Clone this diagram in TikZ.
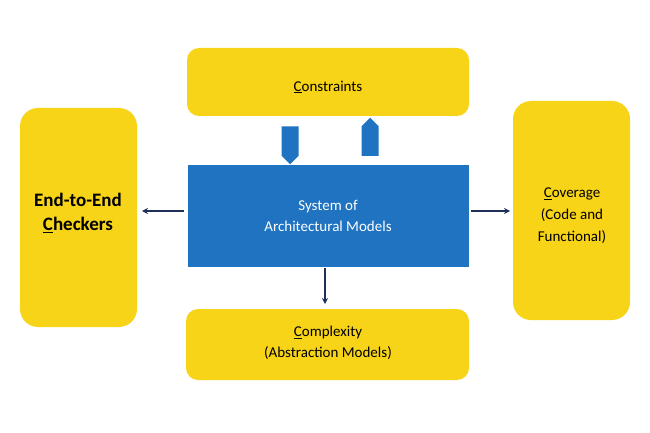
\documentclass[tikz,border=0pt]{standalone}
\usepackage{fontspec}
\setmainfont{Carlito}
\usetikzlibrary{shapes.arrows,arrows.meta}
\definecolor{yel}{HTML}{F7D417}
\definecolor{blu}{HTML}{1F73C1}
\definecolor{nav}{HTML}{1F2F5A}
\begin{document}
\begin{tikzpicture}[x=1pt,y=-1pt,
 ybox/.style={fill=yel,draw=none,rounded corners=#1},
 lab/.style={font=\fontsize{15}{18}\selectfont,align=center},
 thin/.style={draw=nav,line width=1.2pt,-{Stealth[length=6pt,width=6pt]}},
 fat/.style={single arrow,fill=blu,draw=none,minimum width=17pt,single arrow head extend=0pt,minimum height=38pt,inner sep=2.5pt}]
\useasboundingbox (0,0) rectangle (650,433);
\fill[ybox=12] (187,48) rectangle (469,116);
\node[lab] (cons) at (328,87) {\underline{C}onstraints};
\fill[ybox=18] (20,108) rectangle (137,327);
\node[lab,font=\bfseries\fontsize{19}{24}\selectfont] (ee) at (78,213) {End-to-End\\\underline{C}heckers};
\fill[ybox=18] (513,101) rectangle (630,320);
\node[lab,font=\fontsize{15}{22}\selectfont] (cov) at (572,216) {\underline{C}overage\\(Code and\\Functional)};
\fill[ybox=12] (186,309) rectangle (469,380);
\node[lab,font=\fontsize{15}{21}\selectfont] (cmp) at (328,343) {\underline{C}omplexity\\(Abstraction Models)};
\fill[blu] (188,165) rectangle (469,267);
\node[lab,text=white,font=\fontsize{15}{21}\selectfont] (sys) at (328,216) {System of\\Architectural Models};
\coordinate (sl) at (184,211); \coordinate (el) at (142,211);
\coordinate (sr) at (471,211); \coordinate (er) at (510,211);
\coordinate (sb) at (325,268); \coordinate (eb) at (325,304);
\draw[thin] (sl) -- (el);
\draw[thin] (sr) -- (er);
\draw[thin] (sb) -- (eb);
\node[fat,shape border rotate=270] (dn) at (290,141) {};
\node[fat,shape border rotate=90] (up) at (370,141) {};
\end{tikzpicture}
\end{document}
